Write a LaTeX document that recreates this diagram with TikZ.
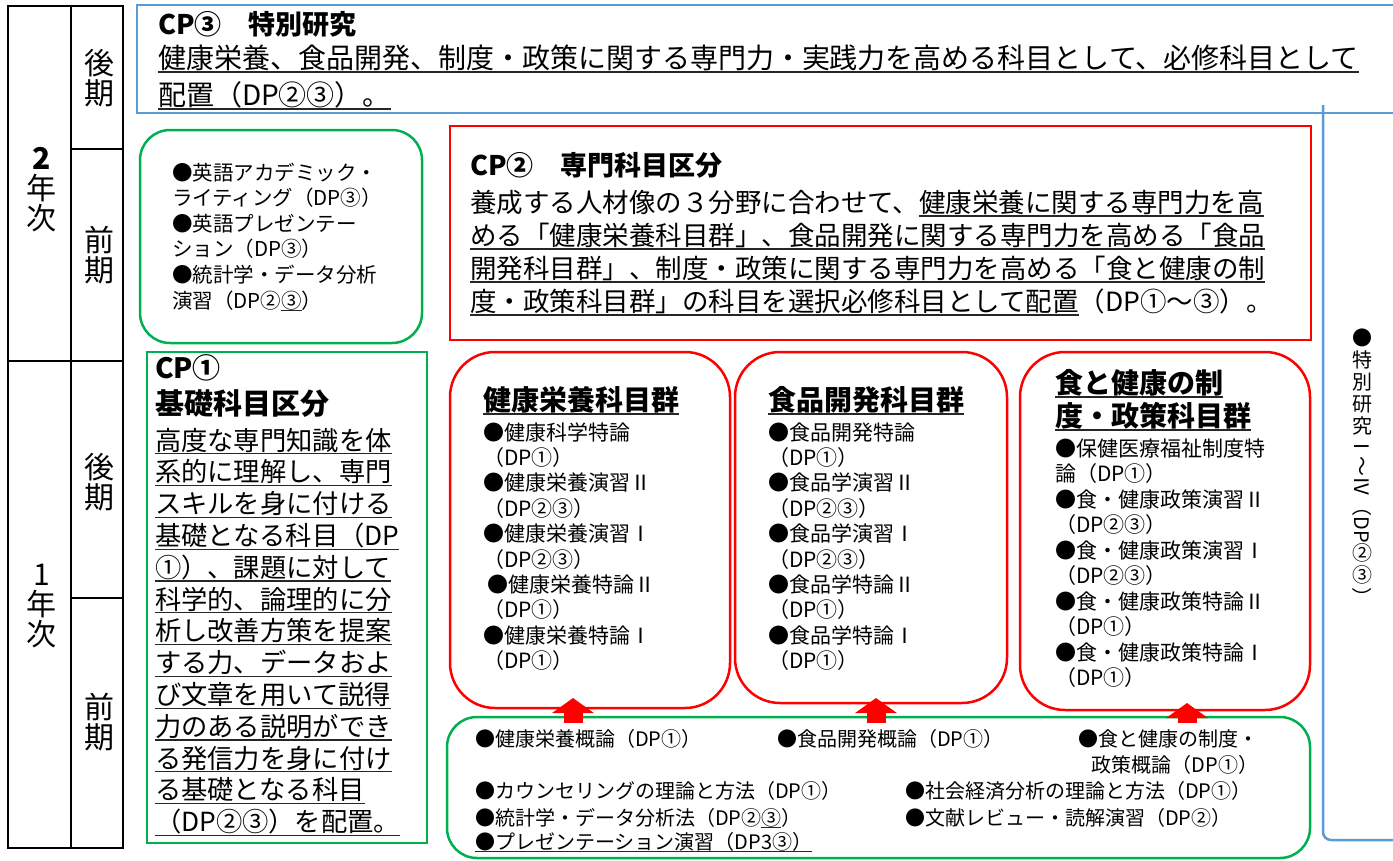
\documentclass[tikz,border=0pt]{standalone}
\usepackage{fontspec}
\setmainfont{Noto Sans CJK JP}
\usetikzlibrary{arrows.meta,calc}
\definecolor{cpred}{RGB}{255,0,0}
\definecolor{cpgreen}{RGB}{0,176,80}
\definecolor{cpblue}{RGB}{91,155,213}
\newcommand\ulx[1]{\setbox0=\hbox{#1}\leavevmode\rlap{\color{black!85}\rule[-0.17em]{\wd0}{1.3pt}}\box0}
\newcommand\fs[1]{\fontsize{#1}{#1}\selectfont}
\newcommand\rotv[1]{\rotatebox[origin=c]{-90}{#1}}
\newcommand\tlines[6]{%
  \foreach \ltxt [count=\lidx] in {#6}{%
    \node[txt,font=#5,anchor=base west] (#1-\lidx) at (#2,{#3+(\lidx-1)*#4}) {\ltxt};
  }}
\begin{document}
\begin{tikzpicture}[x=1pt,y=-1pt,
  txt/.style={inner sep=0pt,outer sep=0pt,text=black},
  box/.style={line width=2.5pt,inner sep=0pt,outer sep=0pt,anchor=north west,fill=none},
  tbl/.style={line width=2.5pt,draw=black},
  lbl/.style={inner sep=0pt,align=center,font=\fontsize{30}{30}\selectfont},
  blockarrow/.style={draw=cpred,line width=19pt,-{Triangle[width=41pt,length=15pt]}}]
\useasboundingbox (0,0) rectangle (1393,860);

% ---- left table ----
\draw[tbl] (8,6) rectangle (123,848);
\draw[tbl] (71,6) -- (71,848);
\draw[tbl] (8,361) -- (123,361);
\draw[tbl] (71,149) -- (123,149);
\draw[tbl] (71,598) -- (123,598);
\node[lbl] (y2) at (42,190) {\textbf{2}\\年\\次};
\node[lbl] (y2b) at (99,78) {後\\期};
\node[lbl] (y2a) at (99,255) {前\\期};
\node[lbl] (y1) at (42,606) {1\\年\\次};
\node[lbl] (y1b) at (99,482) {後\\期};
\node[lbl] (y1a) at (99,722) {前\\期};

% ---- CP3 ----
\node[box,draw=cpblue,minimum width=1263pt,minimum height=108pt] (cp3) at (137,5) {};
\draw[cpblue,line width=2.5pt,rounded corners=8pt] (1323,105) -- (1323,840) -- (1400,840);
\node[txt,font=\fs{27}\bfseries,anchor=base west] (cp3title) at (158,34) {CP③　特別研究};
\tlines{cp3b}{158}{68}{37}{\fs{28}}{{\ulx{健康栄養、食品開発、制度・政策に関する専門力・実践力を高める科目として、必修科目として}},{\ulx{配置（DP②③）。}}}
\node[txt,font=\fontsize{20}{22}\selectfont,align=center] (side) at (1362,468)
  {●\\特\\別\\研\\究\\\rotv{Ⅰ～Ⅳ（DP}\\②\\③\\\rotv{）}};

% ---- year 2 first half (green rounded) ----
\node[box,draw=cpgreen,rounded corners=30pt,minimum width=282pt,minimum height=213pt] (eng) at (140,130) {};
\tlines{engt}{172}{180}{25.6}{\fs{20.5}}{●英語アカデミック・,ライティング（DP③）,●英語プレゼンテー,ション（DP③）,●統計学・データ分析,演習（DP②\ulx{③}）}

% ---- CP2 ----
\node[box,draw=cpred,minimum width=861pt,minimum height=214pt] (cp2) at (450,126) {};
\node[txt,font=\fs{27}\bfseries,anchor=base west] (cp2title) at (470,175) {CP②　専門科目区分};
\tlines{cp2b}{470}{212}{33}{\fs{26.5}}{{養成する人材像の３分野に合わせて、\ulx{健康栄養に関する専門力を高}},{\ulx{める「健康栄養科目群」、食品開発に関する専門力を高める「食品}},{\ulx{開発科目群」、制度・政策に関する専門力を高める「食と健康の制}},{\ulx{度・政策科目群」の科目を選択必修科目として配置}（DP①～③）。}}

% ---- CP1 ----
\node[box,draw=cpgreen,minimum width=280pt,minimum height=491pt] (cp1) at (147,352) {};
\node[txt,font=\fs{28}\bfseries,anchor=base west] (cp1title) at (155,378) {CP①};
\node[txt,font=\fs{29}\bfseries,anchor=base west] (cp1sub) at (155,414) {基礎科目区分};
\tlines{cp1b}{155}{450}{31.8}{\fs{26.3}}{\ulx{高度な専門知識を体},\ulx{系的に理解し、専門},\ulx{スキルを身に付ける},\ulx{基礎となる科目（DP},\ulx{①）、課題に対して},\ulx{科学的、論理的に分},\ulx{析し改善方策を提案},\ulx{する力、データおよ},\ulx{び文章を用いて説得},\ulx{力のある説明ができ},\ulx{る発信力を身に付け},\ulx{る基礎となる科目},\ulx{（DP②③）を配置。}}

% ---- subject groups ----
\node[box,draw=cpred,rounded corners=45pt,minimum width=280pt,minimum height=356pt] (gA) at (450,352) {};
\node[box,draw=cpred,rounded corners=45pt,minimum width=272pt,minimum height=351pt] (gB) at (735,352) {};
\node[box,draw=cpred,rounded corners=45pt,minimum width=290pt,minimum height=358pt] (gC) at (1020,352) {};

\node[txt,font=\fs{28}\bfseries,anchor=base west] (gAt) at (483,410) {\ulx{健康栄養科目群}};
\tlines{gAi}{483}{440}{25.4}{\fs{21}}{●健康科学特論,（DP①）,●健康栄養演習Ⅱ,（DP②③）,●健康栄養演習Ⅰ,（DP②③）,\hspace{4pt}●健康栄養特論Ⅱ,（DP①）,●健康栄養特論Ⅰ,（DP①）}

\node[txt,font=\fs{28}\bfseries,anchor=base west] (gBt) at (768,410) {\ulx{食品開発科目群}};
\tlines{gBi}{768}{440}{25.4}{\fs{21}}{●食品開発特論,（DP①）,●食品学演習Ⅱ,（DP②③）,●食品学演習Ⅰ,（DP②③）,●食品学特論Ⅱ,（DP①）,●食品学特論Ⅰ,（DP①）}

\tlines{gCt}{1055}{393}{33}{\fs{28}\bfseries}{\ulx{食と健康の制},\ulx{度・政策科目群}}
\tlines{gCi}{1055}{456}{25.5}{\fs{21}}{●保健医療福祉制度特,論（DP①）,●食・健康政策演習Ⅱ,（DP②③）,●食・健康政策演習Ⅰ,（DP②③）,●食・健康政策特論Ⅱ,（DP①）,●食・健康政策特論Ⅰ,（DP①）}

% ---- bottom green box ----
\node[box,draw=cpgreen,rounded corners=30pt,minimum width=863pt,minimum height=141pt] (bot) at (447,717) {};
\node[txt,font=\fs{20},anchor=base west] (b1) at (475,746) {●健康栄養概論（DP①）};
\node[txt,font=\fs{20},anchor=base west] (b2) at (777,746) {●食品開発概論（DP①）};
\node[txt,font=\fs{20},anchor=base west] (b3) at (1078,746) {●食と健康の制度・};
\node[txt,font=\fs{20},anchor=base east] (b4) at (1258,772) {政策概論（DP①）};
\node[txt,font=\fs{20},anchor=base west] (b5) at (475,798) {●カウンセリングの理論と方法（DP①）};
\node[txt,font=\fs{20},anchor=base west] (b6) at (905,798) {●社会経済分析の理論と方法（DP①）};
\node[txt,font=\fs{20},anchor=base west] (b7) at (475,825) {●統計学・データ分析法（DP②\ulx{③}）};
\node[txt,font=\fs{20},anchor=base west] (b8) at (905,825) {●文献レビュー・読解演習（DP②）};
\node[txt,font=\fs{20},anchor=base west] (b9) at (475,849) {\ulx{●プレゼンテーション演習（DP3③）}};

% ---- arrows ----
\coordinate (xA) at (573,0);
\coordinate (xB) at (876,0);
\coordinate (xC) at (1187,0);
\draw[blockarrow] ($(xA |- bot.north)+(0,6)$) -- ($(xA |- gA.south)+(0,-10)$);
\draw[blockarrow] ($(xB |- bot.north)+(0,6)$) -- ($(xB |- gB.south)+(0,-5)$);
\draw[blockarrow] ($(xC |- bot.north)+(0,6)$) -- ($(xC |- gC.south)+(0,-7)$);
\end{tikzpicture}
\end{document}
